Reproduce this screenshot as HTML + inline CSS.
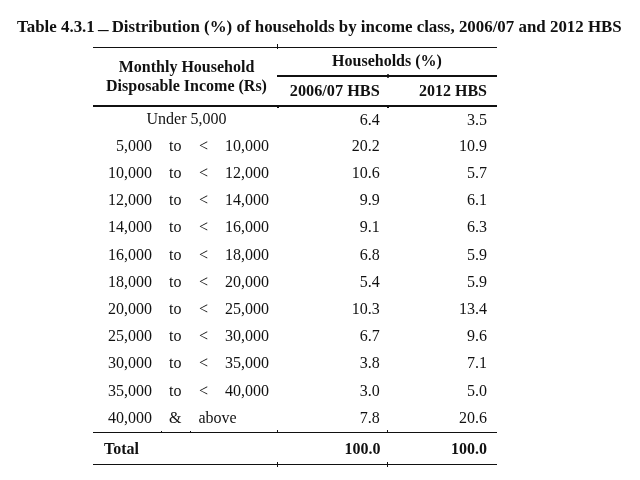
<!DOCTYPE html>
<html><head><meta charset="utf-8">
<style>
html,body{margin:0;padding:0;background:#fff;}
body{width:640px;height:480px;position:relative;overflow:hidden;font-family:"Liberation Serif",serif;color:#111;filter:blur(0.35px);}
.t{position:absolute;white-space:nowrap;line-height:1;}
.b{font-weight:bold;}
.r{text-align:right;}
.c{text-align:center;}
.ln{position:absolute;background:#111;}
.row{font-size:16px;}
</style></head><body>
<div class="t b" style="left:17px;top:19px;font-size:16.9px;">Table 4.3.1 <span style="display:inline-block;position:relative;top:2.8px;left:-0.3px;transform:scaleX(1.25)">–</span> Distribution (%) of households by income class, 2006/07 and 2012 HBS</div>

<div class="ln" style="left:93px;top:47px;width:404px;height:1px;"></div>
<div class="ln" style="left:277px;top:75px;width:220px;height:2px;"></div>
<div class="ln" style="left:93px;top:104.6px;width:404px;height:2px;"></div>
<div class="ln" style="left:93px;top:432px;width:404px;height:1.2px;"></div>
<div class="ln" style="left:93px;top:464.2px;width:404px;height:1.2px;"></div>

<div class="ln" style="left:277.3px;top:44px;width:1.2px;height:4.5px;"></div>
<div class="ln" style="left:386.8px;top:73.6px;width:2.4px;height:4.6px;border-radius:1px;"></div>
<div class="ln" style="left:277.3px;top:105px;width:1.4px;height:3px;"></div>
<div class="ln" style="left:386.8px;top:105px;width:2.2px;height:3px;"></div>
<div class="ln" style="left:160.5px;top:430.6px;width:1.2px;height:2px;"></div>
<div class="ln" style="left:190.3px;top:430.6px;width:1.2px;height:2px;"></div>
<div class="ln" style="left:277.3px;top:430.4px;width:1.2px;height:2px;"></div>
<div class="ln" style="left:387.3px;top:430.4px;width:1.2px;height:2px;"></div>
<div class="ln" style="left:277.3px;top:462px;width:1.2px;height:5px;"></div>
<div class="ln" style="left:387.3px;top:462px;width:1.2px;height:5px;"></div>

<div class="t b c" style="left:93px;width:187px;top:58.5px;font-size:16px;">Monthly Household</div>
<div class="t b c" style="left:93px;width:187px;top:77.5px;font-size:16px;">Disposable Income (Rs)</div>
<div class="t b c" style="left:277px;width:220px;top:53px;font-size:16px;">Households (%)</div>
<div class="t b r" style="left:277px;width:102.8px;top:83px;font-size:16.3px;">2006/07 HBS</div>
<div class="t b r" style="left:387px;width:100px;top:83px;font-size:16px;">2012 HBS</div>

<div class="t row c" style="left:93px;width:187px;top:110.8px">Under 5,000</div>
<div class="t row r" style="left:277px;width:102.8px;top:111.6px">6.4</div>
<div class="t row r" style="left:387px;width:100px;top:111.6px">3.5</div>
<div class="t row r" style="left:93px;width:59px;top:137.72px">5,000</div>
<div class="t row" style="left:169px;top:137.72px">to</div>
<div class="t row" style="left:199px;top:137.72px">&lt;</div>
<div class="t row r" style="left:200px;width:69px;top:137.72px">10,000</div>
<div class="t row r" style="left:277px;width:102.8px;top:137.72px">20.2</div>
<div class="t row r" style="left:387px;width:100px;top:137.72px">10.9</div>
<div class="t row r" style="left:93px;width:59px;top:164.94px">10,000</div>
<div class="t row" style="left:169px;top:164.94px">to</div>
<div class="t row" style="left:199px;top:164.94px">&lt;</div>
<div class="t row r" style="left:200px;width:69px;top:164.94px">12,000</div>
<div class="t row r" style="left:277px;width:102.8px;top:164.94px">10.6</div>
<div class="t row r" style="left:387px;width:100px;top:164.94px">5.7</div>
<div class="t row r" style="left:93px;width:59px;top:192.16px">12,000</div>
<div class="t row" style="left:169px;top:192.16px">to</div>
<div class="t row" style="left:199px;top:192.16px">&lt;</div>
<div class="t row r" style="left:200px;width:69px;top:192.16px">14,000</div>
<div class="t row r" style="left:277px;width:102.8px;top:192.16px">9.9</div>
<div class="t row r" style="left:387px;width:100px;top:192.16px">6.1</div>
<div class="t row r" style="left:93px;width:59px;top:219.38px">14,000</div>
<div class="t row" style="left:169px;top:219.38px">to</div>
<div class="t row" style="left:199px;top:219.38px">&lt;</div>
<div class="t row r" style="left:200px;width:69px;top:219.38px">16,000</div>
<div class="t row r" style="left:277px;width:102.8px;top:219.38px">9.1</div>
<div class="t row r" style="left:387px;width:100px;top:219.38px">6.3</div>
<div class="t row r" style="left:93px;width:59px;top:246.6px">16,000</div>
<div class="t row" style="left:169px;top:246.6px">to</div>
<div class="t row" style="left:199px;top:246.6px">&lt;</div>
<div class="t row r" style="left:200px;width:69px;top:246.6px">18,000</div>
<div class="t row r" style="left:277px;width:102.8px;top:246.6px">6.8</div>
<div class="t row r" style="left:387px;width:100px;top:246.6px">5.9</div>
<div class="t row r" style="left:93px;width:59px;top:273.82px">18,000</div>
<div class="t row" style="left:169px;top:273.82px">to</div>
<div class="t row" style="left:199px;top:273.82px">&lt;</div>
<div class="t row r" style="left:200px;width:69px;top:273.82px">20,000</div>
<div class="t row r" style="left:277px;width:102.8px;top:273.82px">5.4</div>
<div class="t row r" style="left:387px;width:100px;top:273.82px">5.9</div>
<div class="t row r" style="left:93px;width:59px;top:301.04px">20,000</div>
<div class="t row" style="left:169px;top:301.04px">to</div>
<div class="t row" style="left:199px;top:301.04px">&lt;</div>
<div class="t row r" style="left:200px;width:69px;top:301.04px">25,000</div>
<div class="t row r" style="left:277px;width:102.8px;top:301.04px">10.3</div>
<div class="t row r" style="left:387px;width:100px;top:301.04px">13.4</div>
<div class="t row r" style="left:93px;width:59px;top:328.26px">25,000</div>
<div class="t row" style="left:169px;top:328.26px">to</div>
<div class="t row" style="left:199px;top:328.26px">&lt;</div>
<div class="t row r" style="left:200px;width:69px;top:328.26px">30,000</div>
<div class="t row r" style="left:277px;width:102.8px;top:328.26px">6.7</div>
<div class="t row r" style="left:387px;width:100px;top:328.26px">9.6</div>
<div class="t row r" style="left:93px;width:59px;top:355.48px">30,000</div>
<div class="t row" style="left:169px;top:355.48px">to</div>
<div class="t row" style="left:199px;top:355.48px">&lt;</div>
<div class="t row r" style="left:200px;width:69px;top:355.48px">35,000</div>
<div class="t row r" style="left:277px;width:102.8px;top:355.48px">3.8</div>
<div class="t row r" style="left:387px;width:100px;top:355.48px">7.1</div>
<div class="t row r" style="left:93px;width:59px;top:382.7px">35,000</div>
<div class="t row" style="left:169px;top:382.7px">to</div>
<div class="t row" style="left:199px;top:382.7px">&lt;</div>
<div class="t row r" style="left:200px;width:69px;top:382.7px">40,000</div>
<div class="t row r" style="left:277px;width:102.8px;top:382.7px">3.0</div>
<div class="t row r" style="left:387px;width:100px;top:382.7px">5.0</div>
<div class="t row r" style="left:93px;width:59px;top:409.92px">40,000</div>
<div class="t row" style="left:169px;top:409.92px">&amp;</div>
<div class="t row" style="left:198.5px;top:409.92px">above</div>
<div class="t row r" style="left:277px;width:102.8px;top:409.92px">7.8</div>
<div class="t row r" style="left:387px;width:100px;top:409.92px">20.6</div>

<div class="t b" style="left:104px;top:440.5px;font-size:16px;">Total</div>
<div class="t b r" style="left:277px;width:103.5px;top:440.5px;font-size:16px;">100.0</div>
<div class="t b r" style="left:387px;width:100px;top:440.5px;font-size:16px;">100.0</div>
</body></html>
